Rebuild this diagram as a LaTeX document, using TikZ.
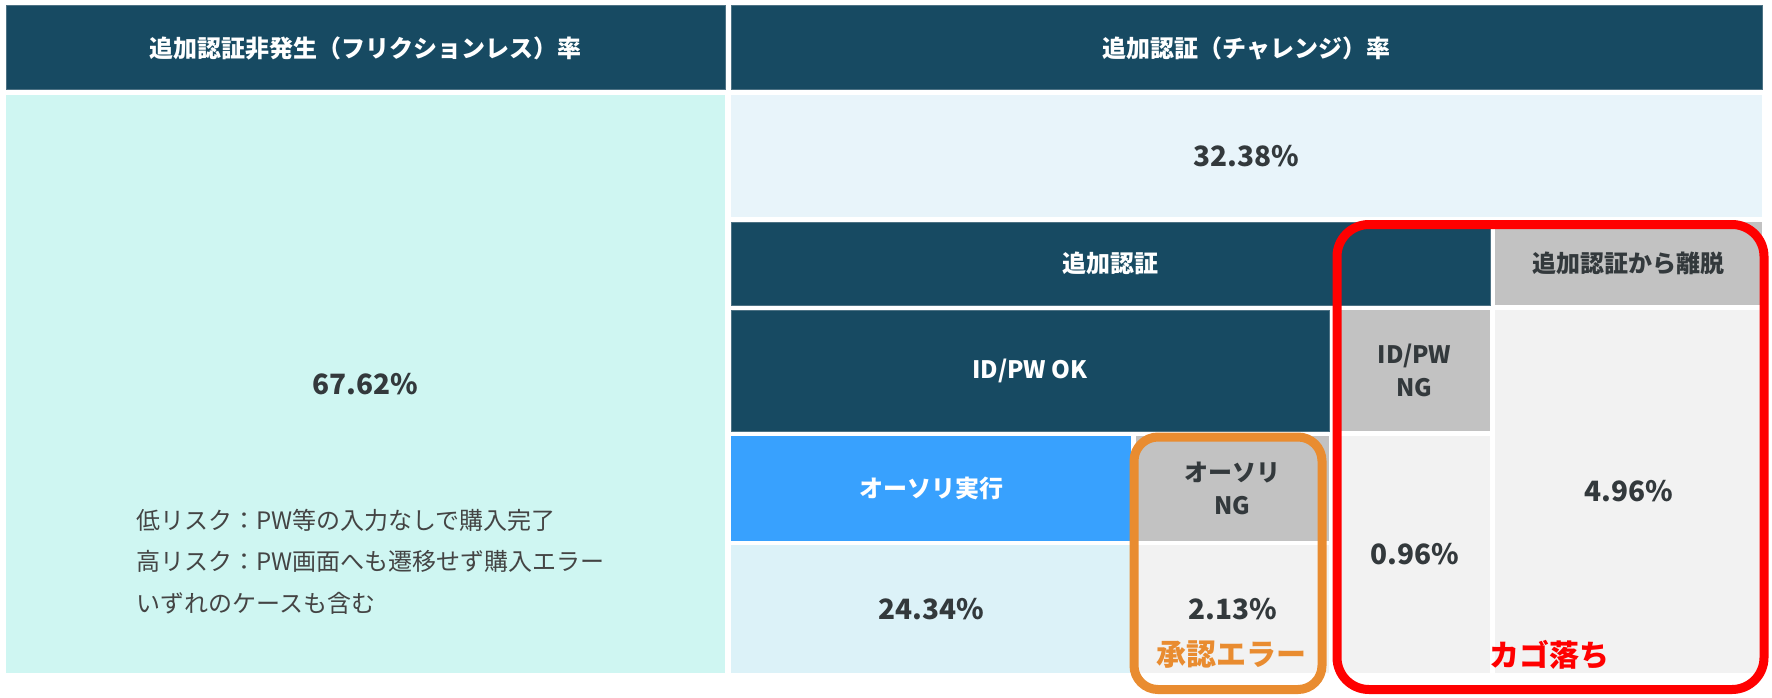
\documentclass[tikz,border=0pt]{standalone}
\usepackage{fontspec}
\setmainfont{Noto Sans CJK JP}
\definecolor{navy}{HTML}{174A62}
\definecolor{navyedge}{HTML}{4D7284}
\definecolor{mint}{HTML}{CFF6F2}
\definecolor{paleblue}{HTML}{E8F4FA}
\definecolor{paleaqua}{HTML}{DCF2F8}
\definecolor{midgray}{HTML}{C2C2C2}
\definecolor{lightgray}{HTML}{F2F2F2}
\definecolor{brightblue}{HTML}{38A1FE}
\definecolor{txt}{HTML}{33393C}
\definecolor{notetxt}{HTML}{444444}
\definecolor{orangehl}{HTML}{E98C30}
\definecolor{redhl}{HTML}{FF0000}
\begin{document}
\begin{tikzpicture}[x=1pt,y=-1pt,
  cell/.style={rectangle, inner sep=0pt, outer sep=0pt, align=center,
    font=\fontsize{24}{33}\selectfont\bfseries},
  dark/.style={cell, fill=navy, text=white, draw=navyedge, line width=1pt},
  grayc/.style={cell, fill=midgray, text=txt},
  valc/.style={cell, text=txt, font=\fontsize{28}{33}\selectfont\bfseries},
  hlbox/.style={rectangle, inner sep=0pt, outer sep=0pt, line width=9pt, fill=none},
  hllabel/.style={font=\fontsize{30}{33}\selectfont\bfseries, inner sep=0pt},
  sz/.style n args={2}{minimum width=#1, minimum height=#2}
]
\useasboundingbox[fill=white] (0,0) rectangle (1772,698);

% headers
\node[dark, sz={719pt}{84pt}] (hL) at (365.5,48) {追加認証非発生（フリクションレス）率};
\node[dark, sz={1031pt}{84pt}] (hR) at (1246.5,48) {追加認証（チャレンジ）率};

% left body
\node[valc, fill=mint, sz={719pt}{578pt}] (bodyL) at (365.5,384) {67.62\%};
\node[anchor=west, align=left, inner sep=0pt, text=notetxt,
  font=\fontsize{24}{41.5}\selectfont] (note) at (136,561.5)
  {低リスク：PW等の入力なしで購入完了\\高リスク：PW画面へも遷移せず購入エラー\\いずれのケースも含む};

% right side
\node[valc, fill=paleblue, sz={1031pt}{122pt}] (chal) at (1246.5,156) {32.38\%};
\node[dark, sz={759pt}{83pt}] (auth) at (1110.5,263.5) {追加認証};
\node[grayc, sz={267pt}{83pt}] (leave) at (1628.5,263.5) {追加認証から離脱};
\node[dark, sz={598pt}{121pt}] (idok) at (1030,370.5) {ID/PW OK};
\node[grayc, sz={151pt}{121pt}] (idng) at (1414.5,370.5) {ID/PW\\NG};
\node[valc, fill=lightgray, sz={267pt}{363pt}] (v496) at (1628.5,491.5) {4.96\%};
\node[cell, fill=brightblue, text=white, sz={400pt}{105pt}] (auex) at (931,488.5) {オーソリ実行};
\node[grayc, sz={193pt}{105pt}] (aung) at (1232.5,488.5) {オーソリ\\NG};
\node[valc, fill=paleaqua, sz={400pt}{128pt}] (v2434) at (931,609) {24.34\%};
\node[valc, fill=lightgray, sz={193pt}{128pt}] (v213) at (1232.5,609) {2.13\%};
\node[valc, fill=lightgray, sz={151pt}{237pt}] (v096) at (1414.5,554.5) {0.96\%};

% highlight boxes
\node[hlbox, draw=orangehl, rounded corners=24pt, sz={188pt}{252.5pt}] (orbox) at (1228,563.25) {};
\node[hlbox, draw=redhl, rounded corners=32pt, sz={427pt}{465pt}] (redbox) at (1550.5,457) {};
\node[hllabel, text=orangehl] (orlabel) at (1231,655) {承認エラー};
\node[hllabel, text=redhl] (redlabel) at (1549,655) {カゴ落ち};
\end{tikzpicture}
\end{document}
